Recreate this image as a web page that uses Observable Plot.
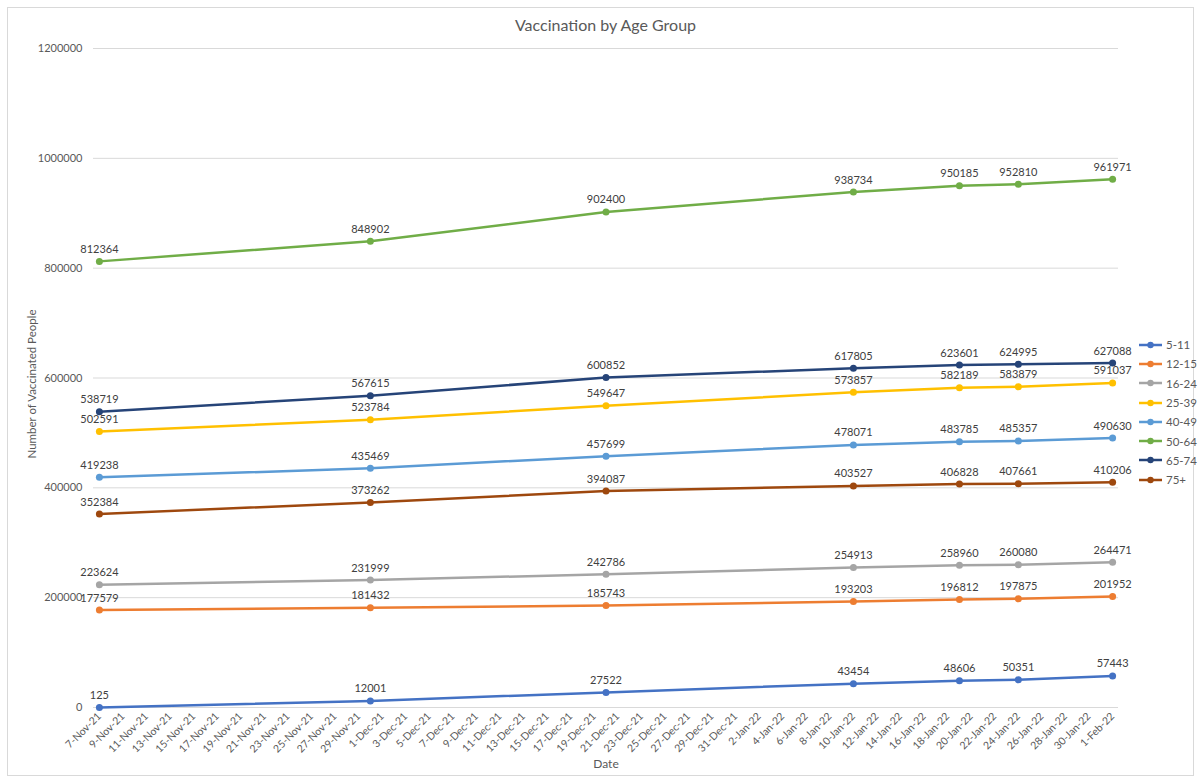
<!DOCTYPE html>
<html>
<head>
<meta charset="utf-8">
<script src="https://cdn.jsdelivr.net/npm/d3@7"></script>
<script src="https://cdn.jsdelivr.net/npm/@observablehq/plot@0.6"></script>
<style>
  body { margin: 0; background: #fff; font-family: Lato, "Open Sans", sans-serif; }
  #frame { position: absolute; left: 7px; top: 7px; width: 1187px; height: 769px; border: 1px solid #d9d9d9; box-sizing: border-box; }
  #title { position: absolute; left: 0; top: 15px; width: 1211px; text-align: center; font-size: 16px; color: #595959; }
  #chart { position: absolute; left: 0; top: 36px; }
  #legend { position: absolute; left: 1138px; top: 335px; font-size: 11.5px; color: #595959; }
  .item { display: flex; align-items: center; height: 19.3px; }
  .item svg { margin-right: 3px; }
</style>
</head>
<body>
<div id="frame"></div>
<div id="title">Vaccination by Age Group</div>
<div id="chart"></div>
<div id="legend"></div>
<script>
// Reporting dates
const dates = ["2021-11-07", "2021-11-30", "2021-12-20", "2022-01-10", "2022-01-19", "2022-01-24", "2022-02-01"];

// Age groups and their series colours
const groups = ["5-11", "12-15", "16-24", "25-39", "40-49", "50-64", "65-74", "75+"];
const colors = ["#4472c4", "#ed7d31", "#a5a5a5", "#ffc000", "#5b9bd5", "#70ad47", "#264478", "#9e480e"];

// Cumulative number of vaccinated people per age group
const age5to11  = [125, 12001, 27522, 43454, 48606, 50351, 57443];
const age12to15 = [177579, 181432, 185743, 193203, 196812, 197875, 201952];
const age16to24 = [223624, 231999, 242786, 254913, 258960, 260080, 264471];
const age25to39 = [502591, 523784, 549647, 573857, 582189, 583879, 591037];
const age40to49 = [419238, 435469, 457699, 478071, 483785, 485357, 490630];
const age50to64 = [812364, 848902, 902400, 938734, 950185, 952810, 961971];
const age65to74 = [538719, 567615, 600852, 617805, 623601, 624995, 627088];
const age75plus = [352384, 373262, 394087, 403527, 406828, 407661, 410206];

// Axis ticks
const yTicks = [0, 200000, 400000, 600000, 800000, 1000000, 1200000];
const xTickStart = "2021-11-07";
const xTickEnd = "2022-02-01";
const xTickStepDays = 2;

const series = [age5to11, age12to15, age16to24, age25to39, age40to49, age50to64, age65to74, age75plus];
const rows = [];
groups.forEach((g, i) => {
  series[i].forEach((v, j) => rows.push({group: g, date: new Date(dates[j] + "T00:00Z"), value: v}));
});

const tickDates = d3.utcDay.range(new Date(xTickStart + "T00:00Z"), d3.utcDay.offset(new Date(xTickEnd + "T00:00Z"), 1), xTickStepDays);
const fmtDate = d3.utcFormat("%-d-%b-%y");

const chart = Plot.plot({
  width: 1201,
  height: 746,
  marginLeft: 93,
  marginRight: 83,
  marginTop: 12,
  marginBottom: 75,
  style: {fontFamily: "Lato, 'Open Sans', sans-serif", background: "transparent"},
  x: {type: "utc", domain: [new Date("2021-11-06T12:00Z"), new Date("2022-02-01T12:00Z")]},
  y: {domain: [0, 1200000]},
  color: {domain: groups, range: colors},
  marks: [
    Plot.gridY(yTicks, {stroke: "#d9d9d9", strokeOpacity: 1, strokeWidth: 1}),
    Plot.axisY(yTicks, {tickSize: 0, tickPadding: 11, tickFormat: d => String(d), fontSize: 11, fill: "#595959", label: null}),
    Plot.axisX(tickDates, {tickSize: 0, tickPadding: 7, tickRotate: -45, tickFormat: fmtDate, fontSize: 10.5, fill: "#595959", label: null}),
    Plot.text(["Number of Vaccinated People"], {frameAnchor: "left", textAnchor: "middle", dx: -61, dy: 6, rotate: -90, fontSize: 11.5, fill: "#595959"}),
    Plot.text(["Date"], {frameAnchor: "bottom", dy: 60, fontSize: 12, fill: "#595959"}),
    Plot.line(rows, {x: "date", y: "value", z: "group", stroke: "group", strokeWidth: 2.5}),
    Plot.dot(rows, {x: "date", y: "value", fill: "group", r: 3.5}),
    Plot.text(rows, {x: "date", y: "value", text: d => String(d.value), dy: -12, fontSize: 11, fill: "#404040"})
  ]
});
document.getElementById("chart").appendChild(chart);

// Legend: line-and-marker swatch per age group
const legend = d3.select("#legend");
groups.forEach((g, i) => {
  const item = legend.append("div").attr("class", "item");
  const svg = item.append("svg").attr("width", 25).attr("height", 10);
  svg.append("line").attr("x1", 1).attr("x2", 24).attr("y1", 5).attr("y2", 5).attr("stroke", colors[i]).attr("stroke-width", 2.5);
  svg.append("circle").attr("cx", 12.5).attr("cy", 5).attr("r", 3.2).attr("fill", colors[i]);
  item.append("span").text(g);
});
</script>
</body>
</html>
